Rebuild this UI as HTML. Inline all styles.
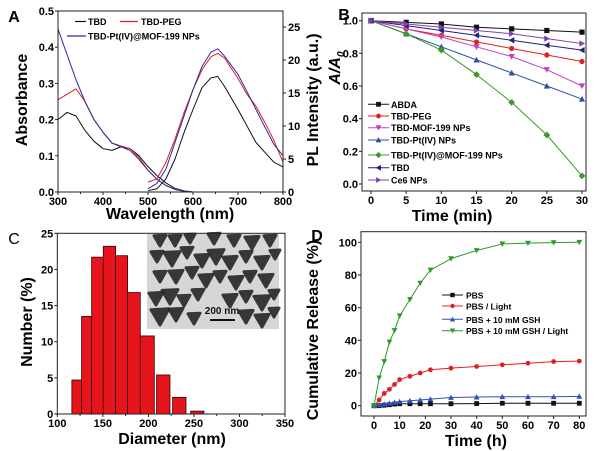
<!DOCTYPE html>
<html><head><meta charset="utf-8"><style>
body{margin:0;background:#fff}
svg{display:block;font-family:"Liberation Sans",Arial,sans-serif;font-weight:bold}
</style></head><body>
<svg id="fig" width="600" height="451" viewBox="0 0 600 451" xmlns="http://www.w3.org/2000/svg"></svg>
<script>
// ---------- Panel A data ----------
const absWl=[300,320,340,360,380,400,420,440,460,480,500,520,540,560,580,600];
const absTBD=[0.20,0.22,0.21,0.17,0.14,0.12,0.115,0.125,0.12,0.10,0.07,0.045,0.025,0.01,0.003,0];
const absPEG=[0.255,0.27,0.285,0.25,0.20,0.165,0.135,0.127,0.12,0.095,0.06,0.035,0.018,0.008,0.002,0];
const absNP=[0.45,0.38,0.31,0.25,0.20,0.165,0.135,0.125,0.115,0.09,0.06,0.035,0.018,0.007,0.002,0];
const plWl=[500,520,540,560,580,600,620,640,655,670,700,720,740,760,780,800];
const plTBD=[0.2,0.5,2,5,9,12.5,15.8,17.3,17.5,16,12.5,10,7.5,6,4.5,3.8];
const plPEG=[1.5,2,4.5,8,12,15.5,18.5,20.5,21,20.3,17.2,14.8,13,10.5,7.8,4.5];
const plNP=[0.5,1.3,3.5,7.5,11.5,15.5,19,21.2,21.7,20.6,17.8,15.2,12.5,9.8,7.2,5.5];
// ---------- Panel B data ----------
const bTime=[0,5,10,15,20,25,30];
const bABDA=[1,0.99,0.98,0.96,0.95,0.94,0.93];
const bPEG=[1,0.95,0.91,0.87,0.83,0.79,0.75];
const bMOF=[1,0.95,0.90,0.84,0.78,0.70,0.60];
const bPt=[1,0.92,0.84,0.76,0.68,0.60,0.52];
const bPtMOF=[1,0.92,0.82,0.67,0.50,0.30,0.05];
const bTBD=[1,0.97,0.94,0.91,0.88,0.85,0.82];
const bCe6=[1,0.98,0.96,0.94,0.92,0.89,0.86];
const bLabels=["ABDA","TBD-PEG","TBD-MOF-199 NPs","TBD-Pt(IV) NPs","TBD-Pt(IV)@MOF-199 NPs","TBD","Ce6 NPs"];
// ---------- Panel C data ----------
const binStart=[116,126.7,137.7,150.5,164,177.2,191.1,209,226.6,246.4];
const binEnd=[126.7,137.7,150.5,164,177.2,191.1,206.5,223.7,241.3,261];
const binCount=[4.7,13.5,21.7,23.2,21.9,16.8,10.8,5.4,2.3,0.4];
// ---------- Panel D data ----------
const dTime=[0,2,4,6,8,10,14,18,22,30,40,50,60,70,80];
const dPBS=[0,0,0.3,0.6,1,1.2,1.2,1.2,1.2,1.2,1.3,1.5,1.5,1.5,1.5];
const dLight=[0,3.5,7.5,10,13,16,18,20,22,23,24,25,26,27,27.3];
const dGSH=[0,0.5,1,1.5,2,2.5,3,3.5,4,5,5.3,5.5,5.5,5.5,5.7];
const dGSHL=[0,17,27,39,46,55,65,75,83,90,95,99,99.5,99.8,100];
const dLabels=["PBS","PBS / Light","PBS + 10 mM GSH","PBS + 10 mM GSH / Light"];

const svg=document.getElementById('fig');
const NS="http://www.w3.org/2000/svg";
function el(tag,attrs,parent){const e=document.createElementNS(NS,tag);for(const k in attrs)e.setAttribute(k,attrs[k]);(parent||svg).appendChild(e);return e;}
function txt(s,x,y,size,anchor,parent,extra){const t=el('text',Object.assign({x:x,y:y,'font-size':size,'text-anchor':anchor||'middle',fill:'#000'},extra||{}),parent);t.textContent=s;return t;}
function lin(d0,d1,r0,r1){return v=>r0+(v-d0)/(d1-d0)*(r1-r0);}

function marker(g,type,x,y,c,s){
  s=s||2.6;let e;
  if(type==='sq')e=el('rect',{x:x-s,y:y-s,width:2*s,height:2*s,fill:c},g);
  else if(type==='ci')e=el('circle',{cx:x,cy:y,r:s,fill:c},g);
  else{let p;
    if(type==='dn')p=[[x-s*1.2,y-s],[x+s*1.2,y-s],[x,y+s*1.2]];
    if(type==='up')p=[[x-s*1.2,y+s],[x+s*1.2,y+s],[x,y-s*1.2]];
    if(type==='lt')p=[[x+s,y-s*1.2],[x+s,y+s*1.2],[x-s*1.2,y]];
    if(type==='rt')p=[[x-s,y-s*1.2],[x-s,y+s*1.2],[x+s*1.2,y]];
    if(type==='di')p=[[x,y-s*1.3],[x+s*1.3,y],[x,y+s*1.3],[x-s*1.3,y]];
    e=el('polygon',{points:p.map(q=>q.join(',')).join(' '),fill:c},g);}
  
  
}
function series(g,xs,ys,sx,sy,c,w){
  return el('polyline',{points:xs.map((x,i)=>sx(x)+','+sy(ys[i])).join(' '),fill:'none',stroke:c,'stroke-width':w||1.2,'stroke-linejoin':'round'},g);
}
function box(g,l,t,r,b){el('rect',{x:l,y:t,width:r-l,height:b-t,fill:'none',stroke:'#222','stroke-width':1},g);}
function xticks(g,vals,sx,b,fs,minor){
  vals.forEach(v=>{el('line',{x1:sx(v),y1:b,x2:sx(v),y2:b+3,stroke:'#222'},g);txt(String(v),sx(v),b+13,fs,'middle',g);});
  (minor||[]).forEach(v=>el('line',{x1:sx(v),y1:b,x2:sx(v),y2:b+2,stroke:'#222'},g));
}
function yticks(g,vals,sy,l,fs,labels,minor){
  vals.forEach((v,i)=>{el('line',{x1:l,y1:sy(v),x2:l-3,y2:sy(v),stroke:'#222'},g);txt(labels?labels[i]:String(v),l-4,sy(v)+4,fs,'end',g);});
  (minor||[]).forEach(v=>el('line',{x1:l,y1:sy(v),x2:l-2,y2:sy(v),stroke:'#222'},g));
}

// ================= Panel A =================
{
const g=el('g',{});
const L=58,R=283,T=11,B=192;
const sx=lin(300,800,L,R), sy=lin(0,0.5,B,T), sy2=lin(0,25,B,27);
[[absTBD,'#111'],[absPEG,'#e02020'],[absNP,'#2b2b9a']].forEach(([d,c])=>{const p=series(g,absWl,d,sx,sy,c,1);});
[[plTBD,'#111'],[plPEG,'#e02020'],[plNP,'#2b2b9a']].forEach(([d,c])=>{const p=series(g,plWl,d,sx,sy2,c,1);});
box(g,L,T,R,B);
xticks(g,[300,400,500,600,700,800],sx,B,11,[350,450,550,650,750]);
yticks(g,[0,0.1,0.2,0.3,0.4,0.5],sy,L,11,["0.0","0.1","0.2","0.3","0.4","0.5"]);
[0,5,10,15,20,25].forEach(v=>{el('line',{x1:R,y1:sy2(v),x2:R+3,y2:sy2(v),stroke:'#222'},g);txt(String(v),R+5,sy2(v)+4,11,'start',g);});
txt('Wavelength (nm)',170,219,16,'middle',g);
txt('Absorbance',0,0,16,'middle',g,{transform:'translate(27,100) rotate(-90)'});
txt('PL Intensity (a.u.)',0,0,16,'middle',g,{transform:'translate(318,100) rotate(-90)'});
txt('A',14,22,16,'middle',g);
const lg=el('g',{},g);
el('line',{x1:75,y1:21.5,x2:86,y2:21.5,stroke:'#111','stroke-width':1.2},lg);txt('TBD',88,25,9,'start',lg);
el('line',{x1:120,y1:21.5,x2:138,y2:21.5,stroke:'#e02020','stroke-width':1.2},lg);txt('TBD-PEG',141,25,9,'start',lg);
el('line',{x1:67,y1:36,x2:86,y2:36,stroke:'#2b2b9a','stroke-width':1.2},lg);txt('TBD-Pt(IV)@MOF-199 NPs',88,39.5,9,'start',lg);
}
// ================= Panel B =================
{
const g=el('g',{});
const L=362,R=586,T=13,B=191;
const sx=lin(0,30,371,582), sy=lin(0,1,184,20.7);
const defs=[[bABDA,'#111','sq'],[bPEG,'#e02020','ci'],[bMOF,'#c040c0','dn'],[bPt,'#3050a0','up'],[bPtMOF,'#3a9a2a','di'],[bTBD,'#20207a','lt'],[bCe6,'#8040b0','rt']];
defs.forEach(([d,c,m])=>{const sg=el('g',{},g);series(sg,bTime,d,sx,sy,c,1);bTime.forEach((t,i)=>marker(sg,m,sx(t),sy(d[i]),c,2.6));});
box(g,L,T,R,B);
xticks(g,[0,5,10,15,20,25,30],sx,B,11);
yticks(g,[0,0.2,0.4,0.6,0.8,1.0],sy,L,11,["0.0","0.2","0.4","0.6","0.8","1.0"]);
txt('Time (min)',452,221,16,'middle',g);
const yl=el('text',{transform:'translate(340,68) rotate(-90)','text-anchor':'middle','font-size':16,'font-style':'italic'},g);


yl.innerHTML='A/A<tspan font-size="10" dy="4">0</tspan>';
txt('B',344,20,16,'middle',g);
const lg=el('g',{},g);
const ly=[104.3,116,127.7,140,155,167.7,180];
defs.forEach(([d,c,m],i)=>{el('line',{x1:368,y1:ly[i],x2:389,y2:ly[i],stroke:c,'stroke-width':1},lg);marker(lg,m,378.5,ly[i],c,2.4);txt(bLabels[i],391,ly[i]+3.5,9,'start',lg);});
}
// ================= Panel C =================
{
const g=el('g',{});
const L=57.3,R=285,T=233.3,B=414;
const sx=lin(100,350,L,R), sy=lin(0,25,B,T);
binCount.forEach((v,i)=>{const r=el('rect',{x:sx(binStart[i]),y:sy(v),width:sx(binEnd[i])-sx(binStart[i]),height:B-sy(v),fill:'#e8141c',stroke:'#300','stroke-width':0.8},g);
});
const ins=el('g',{},g);
el('rect',{x:147,y:234,width:132,height:95,fill:'#d6d6d6'},ins);
const blobs=[[160,240,6],[175,240,6],[190,238,5],[214,238,6],[234,240,6],[252,242,7],[270,240,6],
[157,256,6],[172,258,8],[187,252,6],[202,260,7],[216,256,8],[230,262,7],[246,256,6],[262,262,7],[275,254,5],
[160,276,6],[176,276,7],[192,272,6],[206,280,7],[220,276,6],[236,282,7],[250,276,6],[266,280,7],
[156,298,7],[170,296,8],[184,300,6],[198,294,6],[230,300,7],[246,296,6],[262,302,8],[274,294,5],
[160,316,9],[176,314,7],[194,318,6],[246,316,7],[262,320,7],[274,312,5]];
blobs.forEach(b=>el('polygon',{points:`${b[0]-b[2]},${b[1]-b[2]*0.7} ${b[0]+b[2]},${b[1]-b[2]*0.8} ${b[0]},${b[1]+b[2]}`,fill:'#262626',stroke:'#262626','stroke-width':3,'stroke-linejoin':'round',opacity:0.9},ins));
txt('200 nm',222,314,10,'middle',ins,{fill:'#111'});
el('line',{x1:210,y1:320,x2:235,y2:320,stroke:'#111','stroke-width':2},ins);
box(g,L,T,R,B);
xticks(g,[100,150,200,250,300,350],sx,B,11,[125,175,225,275,325]);
yticks(g,[0,5,10,15,20,25],sy,L,11);
txt('Diameter (nm)',172,444,16,'middle',g);
txt('Number (%)',0,0,16,'middle',g,{transform:'translate(32,322) rotate(-90)'});
txt('C',14,244,16,'middle',g,{'font-weight':'normal'});
}
// ================= Panel D =================
{
const g=el('g',{});
const L=361,R=586,T=231.7,B=416;
const sx=lin(0,80,374,579.3), sy=lin(0,100,405.7,242.3);
const defs=[[dPBS,'#111','sq'],[dLight,'#e02020','ci'],[dGSH,'#3050c0','up'],[dGSHL,'#2a9a2a','dn']];
defs.forEach(([d,c,m])=>{const sg=el('g',{},g);series(sg,dTime,d,sx,sy,c,1);dTime.forEach((t,i)=>marker(sg,m,sx(t),sy(d[i]),c,2.4));});
box(g,L,T,R,B);
xticks(g,[0,10,20,30,40,50,60,70,80],sx,B,11);
yticks(g,[0,20,40,60,80,100],sy,L,11);
txt('Time (h)',476,446,16,'middle',g);
txt('Cumulative Release (%)',0,0,16,'middle',g,{transform:'translate(318,330) rotate(-90)'});
txt('D',317,241,16,'middle',g);
const lg=el('g',{},g);
const ly=[295,306,319.3,330.7];
defs.forEach(([d,c,m],i)=>{el('line',{x1:442,y1:ly[i],x2:463,y2:ly[i],stroke:c,'stroke-width':1},lg);marker(lg,m,452.5,ly[i],c,2.2);txt(dLabels[i],466,ly[i]+3.5,8.5,'start',lg);});
}
</script>
</body></html>
